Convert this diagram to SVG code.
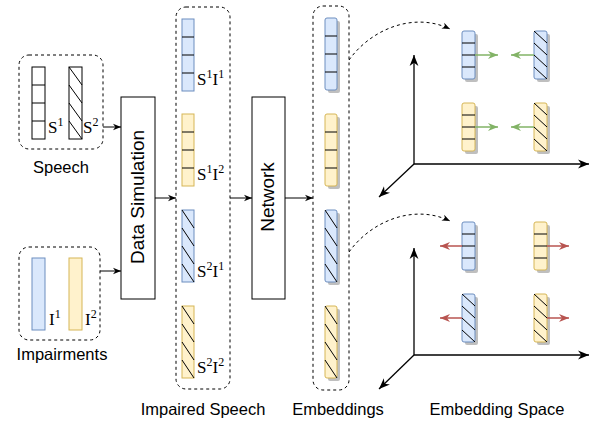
<svg xmlns="http://www.w3.org/2000/svg" width="592" height="421" viewBox="0 0 592 421">
<defs>
<style>
.grp{fill:none;stroke:#000;stroke-width:1;stroke-dasharray:3 3}
.box{fill:#fff;stroke:#000;stroke-width:1}
.blue{fill:#dae8fc;stroke:#6c8ebf;stroke-width:1}
.yel{fill:#fff2cc;stroke:#d6b656;stroke-width:1}
.wht{fill:#fff;stroke:#000;stroke-width:1}
.sh{fill:#000;opacity:0.25}
.ln{stroke:#000;stroke-width:1;fill:none}
.lbl{font-family:"Liberation Sans",Arial,sans-serif;font-size:16.5px;fill:#000;text-anchor:middle}
.rot{font-family:"Liberation Sans",Arial,sans-serif;font-size:19px;fill:#000;text-anchor:middle}
.math{font-family:"Liberation Serif","Times New Roman",serif;font-size:17px;fill:#000}
.edge{stroke:#000;stroke-width:1;fill:none;marker-end:url(#arr)}
.axis{stroke:#000;stroke-width:1.3;fill:none;marker-end:url(#arrL)}
.dash{stroke:#000;stroke-width:1;fill:none;stroke-dasharray:3 3;marker-end:url(#arr)}
.grn{stroke:#82b366;stroke-width:1.5;fill:none;marker-end:url(#arrG)}
.red{stroke:#b85450;stroke-width:1.5;fill:none;marker-end:url(#arrR)}
</style>
<marker id="arr" viewBox="0 0 10 10" refX="10" refY="5" markerWidth="8" markerHeight="8" markerUnits="userSpaceOnUse" orient="auto"><path d="M0,1 L10,5 L0,9 L3,5 z" fill="#000"/></marker>
<marker id="arrL" viewBox="0 0 10 10" refX="10" refY="5" markerWidth="11" markerHeight="11" markerUnits="userSpaceOnUse" orient="auto"><path d="M0,1 L10,5 L0,9 L3,5 z" fill="#000"/></marker>
<marker id="arrG" viewBox="0 0 10 10" refX="10" refY="5" markerWidth="10" markerHeight="10" markerUnits="userSpaceOnUse" orient="auto"><path d="M0,1 L10,5 L0,9 L3,5 z" fill="#82b366"/></marker>
<marker id="arrR" viewBox="0 0 10 10" refX="10" refY="5" markerWidth="10" markerHeight="10" markerUnits="userSpaceOnUse" orient="auto"><path d="M0,1 L10,5 L0,9 L3,5 z" fill="#b85450"/></marker>
</defs>
<rect width="592" height="421" fill="#fff"/>

<g id="speech">
<rect class="grp" x="19" y="55" width="84" height="94" rx="10"/>
<rect class="wht" x="32" y="67" width="13" height="72"/>
<path class="ln" d="M32,85H45M32,103H45M32,121H45"/>
<rect class="wht" x="69" y="67" width="13" height="72"/>
<path class="ln" d="M69,67L82,85M69,85L82,103M69,103L82,121M69,121L82,139"/>
<text class="math" x="48" y="133">S<tspan font-size="12" dy="-7">1</tspan></text>
<text class="math" x="83" y="133">S<tspan font-size="12" dy="-7">2</tspan></text>
<text class="lbl" x="61" y="173">Speech</text>
</g>

<g id="impairments">
<rect class="grp" x="19" y="247" width="81" height="93" rx="10"/>
<rect class="blue" x="32" y="258" width="13" height="72"/>
<rect class="yel" x="69" y="258" width="13" height="72"/>
<text class="math" x="49" y="325">I<tspan font-size="12" dy="-7">1</tspan></text>
<text class="math" x="85" y="325">I<tspan font-size="12" dy="-7">2</tspan></text>
<text class="lbl" x="62" y="360">Impairments</text>
</g>

<g id="data-simulation">
<rect class="box" x="121" y="97" width="34" height="202"/>
<text class="rot" transform="translate(144,197) rotate(-90)">Data Simulation</text>
</g>

<g id="impaired-speech">
<rect class="grp" x="176" y="7" width="54" height="382" rx="10"/>
<rect class="blue" x="182" y="19" width="12" height="72"/>
<path class="ln" d="M182,37H194M182,55H194M182,73H194"/>
<rect class="yel" x="182" y="114" width="12" height="72"/>
<path class="ln" d="M182,132H194M182,150H194M182,168H194"/>
<rect class="blue" x="182" y="210" width="12" height="72"/>
<path class="ln" d="M182,210L194,228M182,228L194,246M182,246L194,264M182,264L194,282"/>
<rect class="yel" x="182" y="306" width="12" height="72"/>
<path class="ln" d="M182,306L194,324M182,324L194,342M182,342L194,360M182,360L194,378"/>
<text class="math" x="197" y="85">S<tspan font-size="12" dy="-7">1</tspan><tspan dy="7">I</tspan><tspan font-size="12" dy="-7">1</tspan></text>
<text class="math" x="197" y="180">S<tspan font-size="12" dy="-7">1</tspan><tspan dy="7">I</tspan><tspan font-size="12" dy="-7">2</tspan></text>
<text class="math" x="197" y="277">S<tspan font-size="12" dy="-7">2</tspan><tspan dy="7">I</tspan><tspan font-size="12" dy="-7">1</tspan></text>
<text class="math" x="197" y="373">S<tspan font-size="12" dy="-7">2</tspan><tspan dy="7">I</tspan><tspan font-size="12" dy="-7">2</tspan></text>
<text class="lbl" x="203" y="415">Impaired Speech</text>
</g>

<g id="network">
<rect class="box" x="252" y="97" width="33" height="202"/>
<text class="rot" transform="translate(274,197) rotate(-90)">Network</text>
</g>

<g id="embeddings">
<rect class="grp" x="313" y="6" width="36" height="384" rx="10"/>
<rect class="sh" x="328" y="21" width="12" height="72" rx="2"/>
<rect class="blue" x="325" y="18" width="12" height="72" rx="2"/>
<path class="ln" d="M325,36H337M325,54H337M325,72H337"/>
<rect class="sh" x="328" y="117" width="12" height="72" rx="2"/>
<rect class="yel" x="325" y="114" width="12" height="72" rx="2"/>
<path class="ln" d="M325,132H337M325,150H337M325,168H337"/>
<rect class="sh" x="328" y="213" width="12" height="72" rx="2"/>
<rect class="blue" x="325" y="210" width="12" height="72" rx="2"/>
<path class="ln" d="M325,210L337,228M325,228L337,246M325,246L337,264M325,264L337,282"/>
<rect class="sh" x="328" y="309" width="12" height="72" rx="2"/>
<rect class="yel" x="325" y="306" width="12" height="72" rx="2"/>
<path class="ln" d="M325,306L337,324M325,324L337,342M325,342L337,360M325,360L337,378"/>
<text class="lbl" x="338" y="415">Embeddings</text>
</g>

<g id="embedding-space-top">
<path class="axis" d="M414,164V55"/>
<path class="axis" d="M414,164H589"/>
<path class="axis" d="M414,164L379,197"/>
<rect class="sh" x="465" y="34" width="13" height="48" rx="2"/>
<rect class="blue" x="462" y="31" width="13" height="48" rx="2"/>
<path class="ln" d="M462,43H475M462,55H475M462,67H475"/>
<rect class="sh" x="537" y="34" width="13" height="48" rx="2"/>
<rect class="blue" x="534" y="31" width="13" height="48" rx="2"/>
<path class="ln" d="M534,31L547,43M534,43L547,55M534,55L547,67M534,67L547,79"/>
<rect class="sh" x="465" y="106" width="13" height="48" rx="2"/>
<rect class="yel" x="462" y="103" width="13" height="48" rx="2"/>
<path class="ln" d="M462,115H475M462,127H475M462,139H475"/>
<rect class="sh" x="537" y="106" width="13" height="48" rx="2"/>
<rect class="yel" x="534" y="103" width="13" height="48" rx="2"/>
<path class="ln" d="M534,103L547,115M534,115L547,127M534,127L547,139M534,139L547,151"/>
<path class="grn" d="M475,55H498"/>
<path class="grn" d="M534,55H511"/>
<path class="grn" d="M475,127H498"/>
<path class="grn" d="M534,127H511"/>
</g>

<g id="embedding-space-bottom">
<path class="axis" d="M414,355V248"/>
<path class="axis" d="M414,355H589"/>
<path class="axis" d="M414,355L379,389"/>
<rect class="sh" x="465" y="225" width="13" height="48" rx="2"/>
<rect class="blue" x="462" y="222" width="13" height="48" rx="2"/>
<path class="ln" d="M462,234H475M462,246H475M462,258H475"/>
<rect class="sh" x="537" y="225" width="13" height="48" rx="2"/>
<rect class="yel" x="534" y="222" width="13" height="48" rx="2"/>
<path class="ln" d="M534,234H547M534,246H547M534,258H547"/>
<rect class="sh" x="465" y="297" width="13" height="48" rx="2"/>
<rect class="blue" x="462" y="294" width="13" height="48" rx="2"/>
<path class="ln" d="M462,294L475,306M462,306L475,318M462,318L475,330M462,330L475,342"/>
<rect class="sh" x="537" y="297" width="13" height="48" rx="2"/>
<rect class="yel" x="534" y="294" width="13" height="48" rx="2"/>
<path class="ln" d="M534,294L547,306M534,306L547,318M534,318L547,330M534,330L547,342"/>
<path class="red" d="M462,246H440"/>
<path class="red" d="M547,246H569"/>
<path class="red" d="M462,318H440"/>
<path class="red" d="M547,318H569"/>
<text class="lbl" x="497" y="415">Embedding Space</text>
</g>

<g id="connectors">
<path class="edge" d="M103,127H121"/>
<path class="edge" d="M100,271H121"/>
<path class="edge" d="M155,198H176"/>
<path class="edge" d="M230,198H252"/>
<path class="edge" d="M285,198H313"/>
<path class="dash" d="M349,60C372,28 415,12 450,29"/>
<path class="dash" d="M349,252C372,220 415,204 450,221"/>
</g>
</svg>
